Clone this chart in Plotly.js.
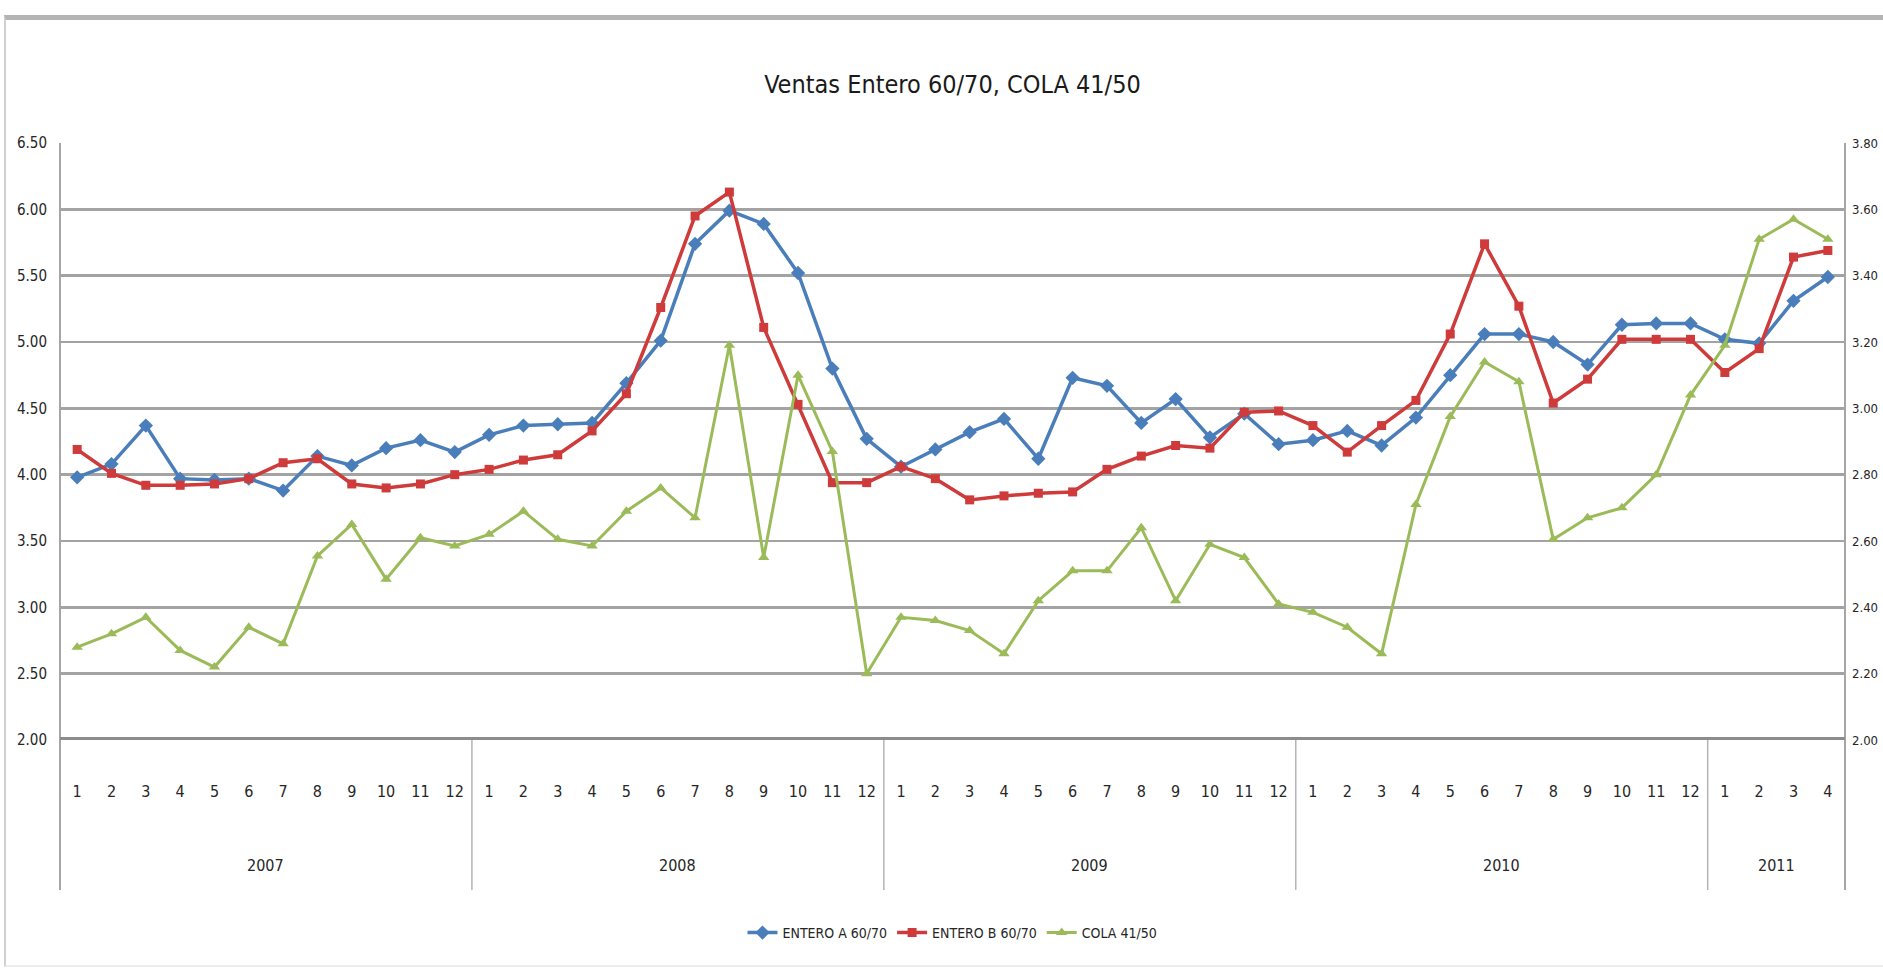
<!DOCTYPE html>
<html>
<head>
<meta charset="utf-8">
<script src="https://cdn.plot.ly/plotly-3.0.1.min.js"></script>
<style>
  html, body { margin: 0; padding: 0; background: #ffffff; }
  #wrap { position: relative; width: 1883px; height: 973px; overflow: hidden; }
  #chart { position: absolute; left: 0; top: 0; width: 1883px; height: 973px; }
  #frame { position: absolute; left: 4px; top: 15px; width: 1890px; height: 945px;
           border-top: 5px solid #b4b4b4; border-left: 2px solid #d0d0d0; border-bottom: 2px solid #ececec;
           pointer-events: none; }
</style>
</head>
<body>
<div id="wrap">
  <div id="chart"></div>
  <div id="frame"></div>
</div>
<script>
// ---- data ----
const years  = ["2007", "2008", "2009", "2010", "2011"];
const monthsPerYear = [12, 12, 12, 12, 4];

const enteroA = [
  3.98, 4.08, 4.37, 3.97, 3.96, 3.97, 3.88, 4.14, 4.07, 4.20, 4.26, 4.17,
  4.30, 4.37, 4.38, 4.39, 4.69, 5.01, 5.74, 5.99, 5.89, 5.52, 4.80, 4.27,
  4.06, 4.19, 4.32, 4.42, 4.12, 4.73, 4.67, 4.39, 4.57, 4.28, 4.46, 4.23,
  4.26, 4.33, 4.22, 4.43, 4.75, 5.06, 5.06, 5.00, 4.83, 5.13, 5.14, 5.14,
  5.02, 4.99, 5.31, 5.49
];
const enteroB = [
  4.19, 4.01, 3.92, 3.92, 3.93, 3.97, 4.09, 4.12, 3.93, 3.90, 3.93, 4.00,
  4.04, 4.11, 4.15, 4.33, 4.61, 5.26, 5.95, 6.13, 5.11, 4.53, 3.94, 3.94,
  4.06, 3.97, 3.81, 3.84, 3.86, 3.87, 4.04, 4.14, 4.22, 4.20, 4.47, 4.48,
  4.37, 4.17, 4.37, 4.56, 5.06, 5.74, 5.27, 4.54, 4.72, 5.02, 5.02, 5.02,
  4.77, 4.95, 5.64, 5.69
];
const cola = [
  2.28, 2.32, 2.37, 2.27, 2.22, 2.34, 2.29, 2.555, 2.65, 2.485, 2.61, 2.585,
  2.62, 2.69, 2.605, 2.585, 2.69, 2.76, 2.67, 3.19, 2.55, 3.10, 2.87, 2.20,
  2.37, 2.36, 2.33, 2.26, 2.42, 2.51, 2.51, 2.64, 2.42, 2.59, 2.55, 2.41,
  2.385, 2.34, 2.26, 2.71, 2.975, 3.14, 3.08, 2.605, 2.67, 2.70, 2.80, 3.04,
  3.19, 3.51, 3.57, 3.51
];
const leftTicks  = [2.0, 2.5, 3.0, 3.5, 4.0, 4.5, 5.0, 5.5, 6.0, 6.5];
const rightTicks = [2.0, 2.2, 2.4, 2.6, 2.8, 3.0, 3.2, 3.4, 3.6, 3.8];
const seriesNames = ["ENTERO A 60/70", "ENTERO B 60/70", "COLA 41/50"];
const titleText = "Ventas Entero 60/70, COLA 41/50";

// ---- build category positions and labels ----
const monthLabels = [];
const groupStart = [];
let idx = 0;
monthsPerYear.forEach((n) => {
  groupStart.push(idx);
  for (let m = 1; m <= n; m++) { monthLabels.push(String(m)); idx++; }
});
const xs = monthLabels.map((_, i) => i);
const nCat = monthLabels.length;

const FONT = '"Liberation Sans Narrow", "Arial Narrow", "DejaVu Sans Condensed", "Roboto Condensed", sans-serif';
const TXT = '#262626';

const traces = [
  { x: xs, y: enteroA, name: seriesNames[0], type: 'scatter', mode: 'lines+markers',
    line: { color: '#4a7ebb', width: 3.5 },
    marker: { symbol: 'diamond', size: 11, color: '#4a7ebb' } },
  { x: xs, y: enteroB, name: seriesNames[1], type: 'scatter', mode: 'lines+markers',
    line: { color: '#cf3a3a', width: 3.5 },
    marker: { symbol: 'square', size: 9, color: '#cf3a3a' } },
  { x: xs, y: cola, name: seriesNames[2], type: 'scatter', mode: 'lines+markers', yaxis: 'y2',
    line: { color: '#9bbb59', width: 3 },
    marker: { symbol: 'triangle-up', size: 10, color: '#9bbb59' } }
];

// plot height in px for converting pixel offsets below the axis
const plotH = 597;
const below = -150 / plotH;

const shapes = [];
// year dividers below the axis
groupStart.slice(1).forEach((s) => {
  shapes.push({ type: 'line', xref: 'x', yref: 'paper', x0: s - 0.5, x1: s - 0.5, y0: 0, y1: below,
                line: { color: '#b4b4b4', width: 1.5 }, layer: 'below' });
});
// left / right plot borders (extend below axis)
shapes.push({ type: 'line', xref: 'paper', yref: 'paper', x0: 0, x1: 0, y0: below, y1: 1,
              line: { color: '#a6a6a6', width: 2 }, layer: 'below' });
shapes.push({ type: 'line', xref: 'paper', yref: 'paper', x0: 1, x1: 1, y0: below, y1: 1,
              line: { color: '#a6a6a6', width: 2 }, layer: 'below' });
// thick category axis line at 2.00
shapes.push({ type: 'line', xref: 'paper', yref: 'y', x0: 0, x1: 1, y0: leftTicks[0], y1: leftTicks[0],
              line: { color: '#8c8c8c', width: 6 }, layer: 'below' });

// year labels centred under their month groups
const annotations = years.map((yr, k) => {
  const s = groupStart[k];
  const e = s + monthsPerYear[k] - 1;
  return { text: yr, xref: 'x', yref: 'paper', x: (s + e) / 2, y: 0, yanchor: 'middle',
           yshift: -125, showarrow: false, font: { family: FONT, size: 16, color: TXT } };
});

const layout = {
  width: 1883, height: 973,
  margin: { l: 60, r: 38, t: 143, b: 233, pad: 0 },
  paper_bgcolor: '#ffffff', plot_bgcolor: '#ffffff',
  font: { family: FONT, size: 16, color: TXT },
  title: { text: titleText, x: 0.5, xref: 'paper', xanchor: 'center',
           y: 1 - 84 / 973, yref: 'container', yanchor: 'middle',
           font: { family: FONT, size: 25, color: '#1a1a1a' } },
  showlegend: true,
  legend: { orientation: 'h', x: 0.5, xanchor: 'center', y: -193 / plotH, yanchor: 'middle',
            font: { family: FONT, size: 14, color: TXT }, bgcolor: 'rgba(0,0,0,0)', itemwidth: 30 },
  xaxis: {
    range: [-0.5, nCat - 0.5], tickmode: 'array', tickvals: xs, ticktext: monthLabels,
    showgrid: false, zeroline: false, showline: false, ticks: '', ticklabelstandoff: 40,
    tickfont: { family: FONT, size: 16, color: TXT }, fixedrange: true
  },
  yaxis: {
    range: [leftTicks[0], leftTicks[leftTicks.length - 1]], tickmode: 'array', tickvals: leftTicks,
    tickformat: '.2f', showgrid: true, gridcolor: '#a3a3a3', gridwidth: 2.5,
    zeroline: false, showline: false, ticks: '', ticklabelstandoff: 12,
    tickfont: { family: FONT, size: 15, color: TXT }, fixedrange: true
  },
  yaxis2: {
    range: [rightTicks[0], rightTicks[rightTicks.length - 1]], tickmode: 'array', tickvals: rightTicks,
    tickformat: '.2f', overlaying: 'y', side: 'right', showgrid: false,
    zeroline: false, showline: false, ticks: '', ticklabelstandoff: 6,
    tickfont: { family: FONT, size: 13, color: TXT }, fixedrange: true
  },
  shapes: shapes,
  annotations: annotations
};

Plotly.newPlot('chart', traces, layout, { displayModeBar: false, staticPlot: true });
</script>
</body>
</html>
